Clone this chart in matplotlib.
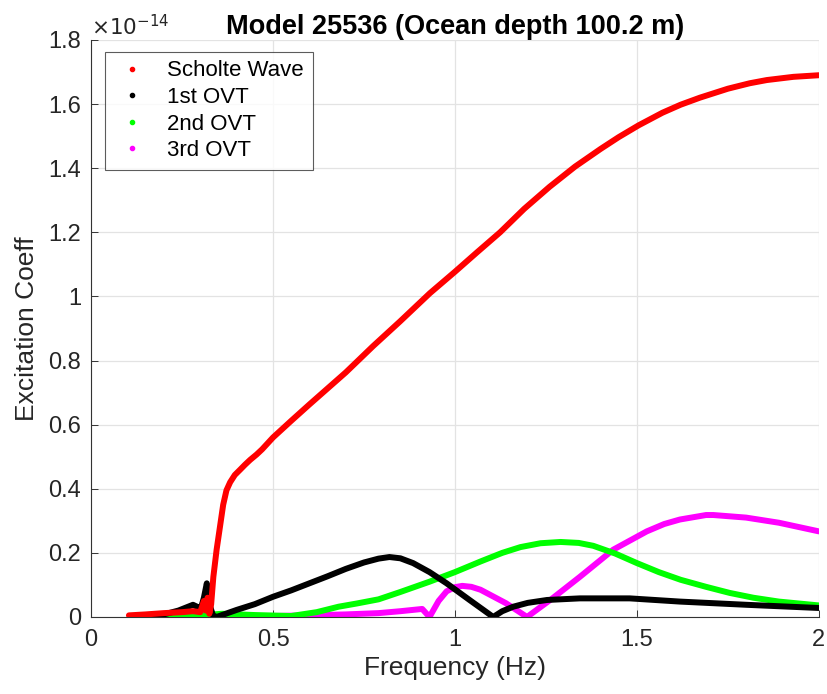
import matplotlib
matplotlib.use("Agg")
import matplotlib.pyplot as plt
from matplotlib.lines import Line2D
from matplotlib.ticker import FuncFormatter, MultipleLocator

plt.rcParams["font.family"] = ["Liberation Sans", "DejaVu Sans"]

SCALE = 1e-14

# excitation coefficients, in units of 1e-14
scholte_f = [0.104, 0.15, 0.2, 0.25, 0.28, 0.30, 0.31, 0.315, 0.32, 0.325, 0.33,
             0.336, 0.345, 0.354, 0.363, 0.372, 0.382, 0.395, 0.41, 0.423, 0.437,
             0.455, 0.47, 0.5, 0.55, 0.6, 0.637, 0.7, 0.775, 0.849, 0.931, 1.0,
             1.06, 1.124, 1.19, 1.26, 1.33, 1.40, 1.45, 1.505, 1.57, 1.62, 1.673,
             1.75, 1.81, 1.857, 1.93, 2.0]
scholte_v = [0.005, 0.008, 0.012, 0.015, 0.018, 0.015, 0.05, 0.02, 0.06, 0.01, 0.04,
             0.125, 0.21, 0.28, 0.35, 0.395, 0.42, 0.443, 0.46, 0.475, 0.49,
             0.507, 0.523, 0.56, 0.612, 0.663, 0.70, 0.763, 0.845, 0.922, 1.01,
             1.077, 1.137, 1.20, 1.273, 1.342, 1.405, 1.46, 1.497, 1.534, 1.573,
             1.598, 1.62, 1.648, 1.665, 1.675, 1.685, 1.69]

ovt1_f = [0.16, 0.2, 0.24, 0.28, 0.295, 0.30, 0.31, 0.318, 0.325, 0.335, 0.345,
          0.4, 0.45, 0.5, 0.55, 0.6, 0.65, 0.7, 0.75, 0.79, 0.82, 0.85, 0.885,
          0.93, 0.977, 1.04, 1.105, 1.13, 1.16, 1.2, 1.253, 1.343, 1.48, 1.618,
          1.8, 2.0]
ovt1_v = [0.0, 0.008, 0.02, 0.038, 0.03, 0.02, 0.06, 0.105, 0.04, 0.005, 0.0,
          0.022, 0.04, 0.063, 0.083, 0.105, 0.127, 0.15, 0.17, 0.182, 0.187, 0.183,
          0.168, 0.14, 0.105, 0.053, 0.0, 0.018, 0.032, 0.044, 0.053, 0.058, 0.058,
          0.048, 0.038, 0.028]

ovt2_f = [0.2, 0.3, 0.36, 0.45, 0.55, 0.62, 0.68, 0.73, 0.79, 0.85, 0.93, 1.0,
          1.07, 1.13, 1.18, 1.235, 1.29, 1.34, 1.38, 1.44, 1.5, 1.56, 1.62, 1.69,
          1.755, 1.82, 1.89, 2.0]
ovt2_v = [0.003, 0.005, 0.01, 0.006, 0.003, 0.015, 0.032, 0.042, 0.055, 0.078,
          0.11, 0.14, 0.173, 0.2, 0.218, 0.23, 0.234, 0.231, 0.222, 0.198, 0.168,
          0.14, 0.116, 0.094, 0.075, 0.06, 0.048, 0.036]

ovt3_f = [0.35, 0.5, 0.6, 0.7, 0.79, 0.85, 0.91, 0.93, 0.955, 0.977, 1.0, 1.02,
          1.045, 1.07, 1.14, 1.198, 1.27, 1.343, 1.435, 1.527, 1.575, 1.618, 1.69,
          1.71, 1.8, 1.89, 2.0]
ovt3_v = [0.002, 0.003, 0.005, 0.008, 0.012, 0.018, 0.025, 0.0, 0.05, 0.08, 0.093,
          0.097, 0.094, 0.085, 0.043, 0.0, 0.06, 0.125, 0.21, 0.267, 0.29, 0.304,
          0.318, 0.318, 0.31, 0.294, 0.267]

series = [
    ("Scholte Wave", scholte_f, scholte_v, "#ff0000", 5),
    ("1st OVT", ovt1_f, ovt1_v, "#000000", 4),
    ("2nd OVT", ovt2_f, ovt2_v, "#00ff00", 3),
    ("3rd OVT", ovt3_f, ovt3_v, "#ff00ff", 2),
]

fig = plt.figure(figsize=(8.28, 6.94), dpi=100)
ax = fig.add_axes([0.110, 0.111, 0.879, 0.8314])

handles = []
for name, f, v, color, z in series:
    ax.plot(f, [x * SCALE for x in v], color=color, lw=4.3,
            solid_capstyle="round", solid_joinstyle="round", zorder=z)
    handles.append(Line2D([], [], ls="none", marker=".", ms=6, color=color, label=name))

ax.set_xlim(0, 2)
ax.set_ylim(0, 1.8 * SCALE)
ax.xaxis.set_major_locator(MultipleLocator(0.5))
ax.yaxis.set_major_locator(MultipleLocator(0.2 * SCALE))
ax.xaxis.set_major_formatter(FuncFormatter(lambda x, _: f"{x:g}"))
ax.yaxis.set_major_formatter(FuncFormatter(lambda y, _: f"{round(y / SCALE, 2):g}"))
ax.yaxis.offsetText.set_visible(False)

ax.grid(True, color="#e3e3e3", lw=0.9)
ax.set_axisbelow(True)
for side in ("top", "right"):
    ax.spines[side].set_visible(False)
for side in ("left", "bottom"):
    ax.spines[side].set_color("#333333")
    ax.spines[side].set_linewidth(0.8)
ax.tick_params(direction="in", length=5, width=0.7, color="#333333",
               labelsize=17, labelcolor="#262626")
ax.tick_params(axis="x", pad=9)
ax.tick_params(axis="y", pad=7)

ax.set_xlabel("Frequency (Hz)", fontsize=19, color="#262626", labelpad=3)
ax.set_ylabel("Excitation Coeff", fontsize=19, color="#262626", labelpad=7)
ax.set_title("Model 25536 (Ocean depth 100.2 m)", fontsize=19.5, fontweight="bold",
             pad=3)
ax.text(0.0, 1.008, r"$\times 10^{-14}$", transform=ax.transAxes, fontsize=15.5,
        color="#262626", ha="left", va="baseline")

leg = ax.legend(handles=handles, loc="upper left", bbox_to_anchor=(0.019, 0.98),
                fontsize=16, frameon=True, fancybox=False, borderaxespad=0,
                handlelength=1.6, handletextpad=0.8, borderpad=0.4,
                labelspacing=0.25)
leg.get_frame().set_edgecolor("#333333")
leg.get_frame().set_linewidth(0.8)

fig.savefig("out.png", dpi=100)
